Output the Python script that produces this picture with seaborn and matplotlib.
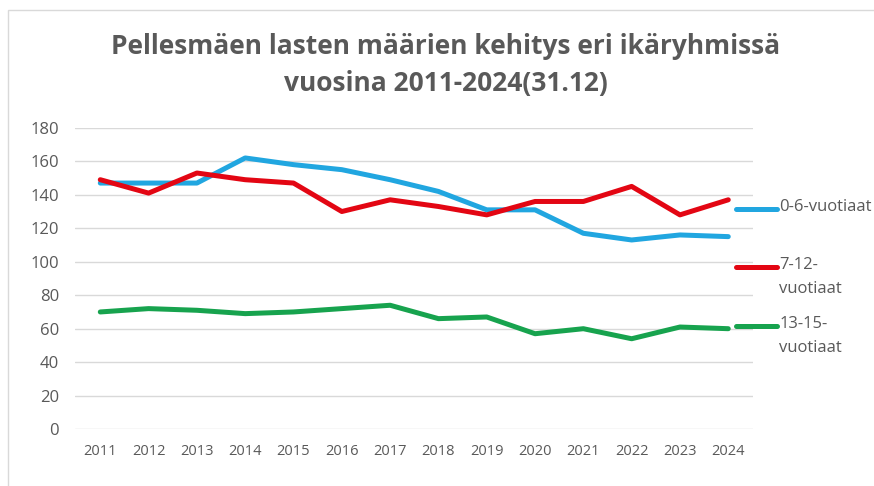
import matplotlib
matplotlib.use("Agg")
import matplotlib.pyplot as plt
import seaborn as sns
import pandas as pd
from matplotlib.patches import Rectangle
from matplotlib.lines import Line2D

years = list(range(2011, 2025))
ikä_0_6 = [147, 147, 147, 162, 158, 155, 149, 142, 131, 131, 117, 113, 116, 115]
ikä_7_12 = [149, 141, 153, 149, 147, 130, 137, 133, 128, 136, 136, 145, 128, 137]
ikä_13_15 = [70, 72, 71, 69, 70, 72, 74, 66, 67, 57, 60, 54, 61, 60]
labels = ["0-6-vuotiaat", "7-12-\nvuotiaat", "13-15-\nvuotiaat"]
colors = ["#21a6e0", "#e30613", "#17a34e"]
title = "Pellesmäen lasten määrien kehitys eri ikäryhmissä\nvuosina 2011-2024(31.12)"

df = pd.DataFrame({
    "vuosi": years * 3,
    "määrä": ikä_0_6 + ikä_7_12 + ikä_13_15,
    "ryhmä": [labels[0]] * 14 + [labels[1]] * 14 + [labels[2]] * 14,
})

sns.set_theme(style="white")
plt.rcParams["font.family"] = ["Open Sans", "DejaVu Sans"]

fig = plt.figure(figsize=(8.74, 4.86), dpi=100)
ax = fig.add_axes([0.086, 0.117, 0.776, 0.62])

sns.lineplot(data=df, x="vuosi", y="määrä", hue="ryhmä",
             palette=colors, linewidth=3.6, ax=ax, legend=False)

ax.set_xlim(2010.48, 2024.52)
ax.set_ylim(0, 180)
ax.set_yticks(range(0, 181, 20))
ax.set_xticks(years)
ax.set_xlabel("")
ax.set_ylabel("")
ax.grid(axis="y", color="#d9d9d9", linewidth=1)
for s in ax.spines.values():
    s.set_visible(False)
ax.tick_params(axis="both", length=0, colors="#595959")
ax.tick_params(axis="y", pad=11.5, labelsize=12)
ax.tick_params(axis="x", pad=11, labelsize=10.5)

# legend on the right, handle level with the first text line
for lab, col, yy in zip(labels, colors, [0.731, 0.538, 0.342]):
    ax.add_line(Line2D([0.975, 1.035], [yy, yy], transform=ax.transAxes,
                       color=col, linewidth=3.6, solid_capstyle="round",
                       clip_on=False))
    ax.text(1.038, yy + 0.032, lab, transform=ax.transAxes, ha="left", va="top",
            fontsize=12, color="#595959", linespacing=1.6)

fig.text(0.51, 0.866, title, ha="center", va="center", fontsize=19,
         fontweight="bold", color="#595959", linespacing=1.5)

fig.patches.append(Rectangle((0.009, -0.1), 1.2, 1.08, transform=fig.transFigure,
                             fill=False, edgecolor="#d9d9d9", linewidth=1))

fig.savefig("out.png", dpi=100)
